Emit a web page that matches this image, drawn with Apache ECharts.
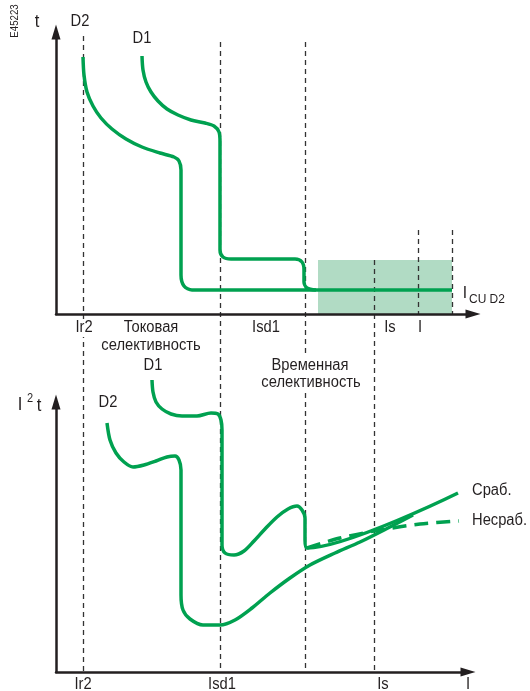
<!DOCTYPE html>
<html>
<head>
<meta charset="utf-8">
<title>Токовая и временная селективность</title>
<script src="https://cdn.jsdelivr.net/npm/echarts@6/dist/echarts.min.js"></script>
<style>
html, body { margin: 0; padding: 0; background: #fff; }
#chart { width: 530px; height: 691px; }
</style>
</head>
<body>
<div id="chart"></div>
<script>
// current axis shared by both diagrams: 0 = ordinate, 1 unit = 1 px
// upper diagram: t (tripping time), lower diagram: I²t (let-through energy)

// --- upper diagram, t = f(I)
const tD2X = [27, 28, 31, 37, 45, 56, 70, 86, 104, 118, 123, 125, 125, 128, 136, 144, 396];
const tD2Y = [257, 239, 222, 208, 196, 185, 175, 167, 161, 157, 153, 144, 39, 28, 24, 24, 24];
const tD1X = [86, 87, 90, 95, 102, 111, 122, 135, 149, 158, 163, 164, 164, 167, 175, 239, 246, 248, 248, 251, 260];
const tD1Y = [258, 244, 232, 222, 213, 205, 199, 194, 191, 188, 182, 172, 64, 57, 55, 55, 52, 44, 32, 26, 24];
// zone above Icu D2
const zoneX = [262, 396];
const zoneY = [0, 54];

// --- lower diagram, I²t = f(I)
const eD2X = [51, 54, 60, 68, 77, 88, 100, 111, 119, 123, 125, 125, 127, 134, 147, 164, 179, 196, 214, 234, 254, 279, 304, 330, 357];
const eD2Y = [249, 232, 219, 210, 205, 207, 211, 215, 216, 212, 202, 77, 62, 53, 47, 47, 52, 64, 79, 94, 107, 119, 130, 143, 157];
const eD1X = [96, 97, 100, 106, 115, 126, 141, 155, 162, 165, 166, 166, 169, 178, 188, 198, 209, 221, 232, 241, 246, 249, 249, 251, 402];
const eD1Y = [292, 280, 270, 263, 258, 256, 256, 259, 258, 252, 242, 127, 119, 117, 121, 131, 143, 155, 163, 166, 162, 154, 132, 124, 179];
const noTripX = [251, 284, 324, 364, 403];
const noTripY = [124, 134, 142, 148, 151];

// --- tick labels
const tickNames = ['Ir2', 'Isd1', 'Is', 'I'];
const topTicks = [28, 210, 334, 364];
const bottomTicks = [27, 166, 327, 412];

// --- dashed guide lines (current value, page top, page bottom)
const guideX = [27, 164, 249, 318, 362, 396];
const guideTop = [36, 42, 42, 260, 230, 230];
const guideBottom = [672, 672, 672, 672, 314, 314];

const FONT = "'Liberation Sans', Arial, sans-serif";
const NARROW = 0.92;  // the source uses a condensed face
const GREEN = '#00a150';
const INK = '#231f20';

const zip = (xs, ys) => xs.map((x, i) => [x, ys[i]]);

function curve (name, idx, xs, ys, dashed) {
    return {
        name,
        type: 'line',
        xAxisIndex: idx,
        yAxisIndex: idx,
        data: zip(xs, ys),
        showSymbol: false,
        smooth: 0.3,
        clip: false,
        z: 3,
        lineStyle: { color: GREEN, width: 3.5, type: dashed ? [14, 8] : 'solid', cap: 'butt' }
    }
}

function axis (idx, max) {
    return {
        type: 'value', gridIndex: idx, min: 0, max, z: 10,
        axisLine: { show: true, symbol: ['none', 'triangle'], symbolSize: [9, 15], lineStyle: { color: INK, width: 2.5 } },
        axisTick: { show: false },
        splitLine: { show: false },
        axisLabel: { show: false }
    }
}

function txt (text, x, y, size, style, extra) {
    return Object.assign({
        type: 'text', x, y, z: 100, scaleX: NARROW,
        style: Object.assign({
            text, font: size + 'px ' + FONT, fill: INK,
            align: 'center', verticalAlign: 'middle'
        }, style || {})
    }, extra || {})
}

const chart = echarts.init(document.getElementById('chart'))

chart.setOption({
    animation: false,
    backgroundColor: '#fff',
    grid: [
        { left: 56, top: 32, width: 417, height: 282, outerBoundsMode: 'none' },
        { left: 56, top: 402, width: 412, height: 270, outerBoundsMode: 'none' },
        { left: 56, top: 0, width: 417, height: 691, outerBoundsMode: 'none' }
    ],
    xAxis: [
        axis(0, 417),
        axis(1, 412),
        { type: 'value', gridIndex: 2, min: 0, max: 417, show: false }
    ],
    yAxis: [
        axis(0, 282),
        axis(1, 270),
        { type: 'value', gridIndex: 2, min: 0, max: 691, inverse: true, show: false }
    ],
    series: [
        {
            type: 'lines',
            coordinateSystem: 'cartesian2d',
            xAxisIndex: 2,
            yAxisIndex: 2,
            silent: true,
            z: 1,
            lineStyle: { color: '#333', width: 1.3, type: [5, 4], opacity: 1 },
            data: guideX.map((x, i) => ({ coords: [[x, guideTop[i]], [x, guideBottom[i]]] }))
        },
        {
            type: 'line',
            xAxisIndex: 0,
            yAxisIndex: 0,
            data: [],
            z: 1,
            markArea: {
                silent: true,
                itemStyle: { color: '#b1dbc4' },
                data: [[{ coord: [zoneX[0], zoneY[0]] }, { coord: [zoneX[1], zoneY[1]] }]]
            }
        },
        curve('D2', 0, tD2X, tD2Y),
        curve('D1', 0, tD1X, tD1Y),
        curve('D2', 1, eD2X, eD2Y),
        curve('D1', 1, eD1X, eD1Y),
        curve('Несраб.', 1, noTripX, noTripY, true)
    ]
})

// tick labels placed through the axes' own scales
const tickLabels = []
topTicks.forEach((v, i) => {
    const p = chart.convertToPixel({ gridIndex: 0 }, [v, 0])
    tickLabels.push(txt(tickNames[i], p[0], p[1] + 14, 16, { backgroundColor: '#fff', padding: [1, 2] }))
})
bottomTicks.forEach((v, i) => {
    const p = chart.convertToPixel({ gridIndex: 1 }, [v, 0])
    tickLabels.push(txt(tickNames[i], p[0], p[1] + 13, 16))
})

chart.setOption({
    graphic: tickLabels.concat([
        txt('E45223', 15, 21, 10.5, null, { rotation: Math.PI / 2 }),
        txt('t', 37, 22, 18),
        txt('D2', 80, 22, 16),
        txt('D1', 142, 39, 16),
        txt('I', 465, 293, 17),
        txt('CU D2', 469, 299, 13, { align: 'left' }),
        txt('Токовая', 151, 328, 16),
        txt('селективность', 151, 346, 16),
        txt('D1', 153, 366, 16),
        txt('Временная', 310, 366, 16, { backgroundColor: '#fff', padding: [1, 2] }),
        txt('селективность', 311, 383, 16, { backgroundColor: '#fff', padding: [1, 2] }),
        txt('I', 20, 405, 18),
        txt('2', 30, 399, 12),
        txt('t', 39, 406, 18),
        txt('D2', 108, 403, 16),
        txt('Сраб.', 472, 491, 16, { align: 'left' }),
        txt('Несраб.', 472, 521, 16, { align: 'left' })
    ])
})
</script>
</body>
</html>
